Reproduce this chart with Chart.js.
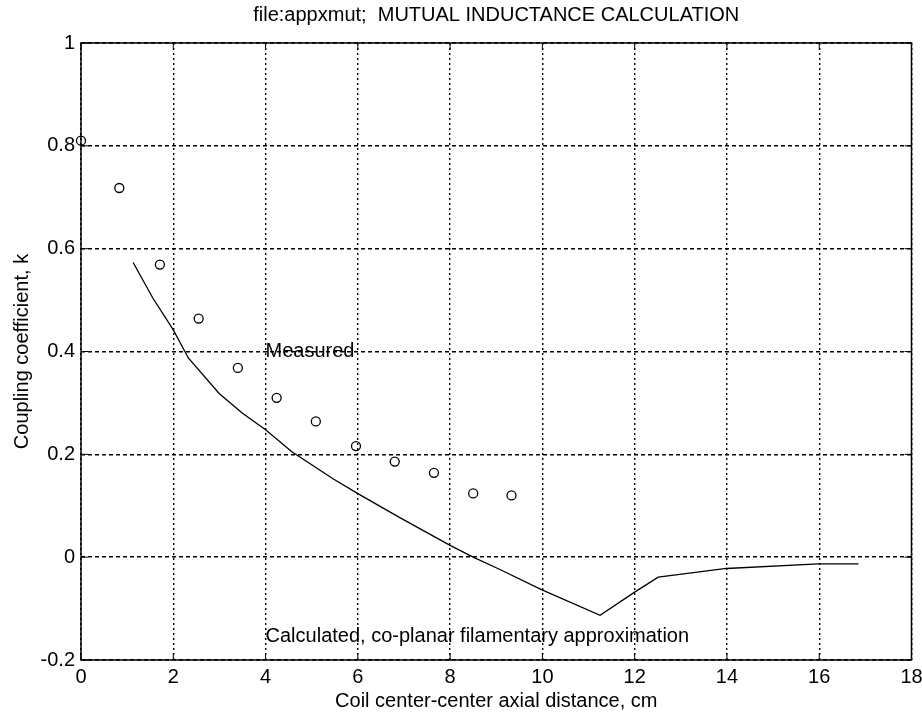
<!DOCTYPE html>
<html>
<head>
<meta charset="utf-8">
<script src="https://cdn.jsdelivr.net/npm/chart.js@4"></script>
<style>
  html, body { margin: 0; padding: 0; background: #fff; }
  #wrap { width: 922px; height: 713px; }
</style>
</head>
<body>
<div id="wrap"><canvas id="chart" width="922" height="713"></canvas></div>
<script>
// data
const titleText = 'file:appxmut;  MUTUAL INDUCTANCE CALCULATION';
const xTicks = [0, 2, 4, 6, 8, 10, 12, 14, 16, 18];
const yTicks = [-0.2, 0, 0.2, 0.4, 0.6, 0.8, 1];

const measuredX = [0, 0.83, 1.71, 2.55, 3.40, 4.24, 5.09, 5.96, 6.80, 7.65, 8.50, 9.33];
const measuredY = [0.81, 0.718, 0.569, 0.464, 0.368, 0.310, 0.264, 0.216, 0.186, 0.164, 0.124, 0.120];

const calcX = [1.13, 1.55, 2.0, 2.33, 3.0, 3.5, 4.0, 4.57, 5.47, 6.01, 6.91, 8.0, 8.5, 9.08, 9.98, 11.25, 12.0, 12.51, 13.99, 15.98, 16.85];
const calcY = [0.573, 0.505, 0.442, 0.387, 0.318, 0.280, 0.248, 0.205, 0.152, 0.123, 0.077, 0.023, 0.0, -0.024, -0.063, -0.113, -0.068, -0.039, -0.022, -0.013, -0.013];

const notes = [
  { x: 4, y: 0.4, text: 'Measured' },
  { x: 4, y: -0.155, text: 'Calculated, co-planar filamentary approximation' }
];

const FONT = '"Liberation Sans", Arial, sans-serif';

function pts(xs, ys) { return xs.map((x, i) => ({ x: x, y: ys[i] })); }

// white page, box, inward ticks, title and text notes
const matlabLook = {
  id: 'matlabLook',
  beforeDraw(chart) {
    const ctx = chart.ctx;
    ctx.save();
    ctx.fillStyle = '#fff';
    ctx.fillRect(0, 0, chart.width, chart.height);
    ctx.restore();
  },
  afterDraw(chart) {
    const ctx = chart.ctx;
    const a = chart.chartArea;
    const xs = chart.scales.x, ys = chart.scales.y;
    ctx.save();
    ctx.strokeStyle = '#000';
    ctx.lineWidth = 1.5;
    ctx.strokeRect(a.left, a.top, a.right - a.left, a.bottom - a.top);

    ctx.lineWidth = 1;
    ctx.beginPath();
    xTicks.forEach(v => {
      const px = xs.getPixelForValue(v);
      ctx.moveTo(px, a.bottom); ctx.lineTo(px, a.bottom - 7);
      ctx.moveTo(px, a.top); ctx.lineTo(px, a.top + 7);
    });
    yTicks.forEach(v => {
      const py = ys.getPixelForValue(v);
      ctx.moveTo(a.left, py); ctx.lineTo(a.left + 7, py);
      ctx.moveTo(a.right, py); ctx.lineTo(a.right - 7, py);
    });
    ctx.stroke();

    ctx.fillStyle = '#000';
    ctx.font = '20px ' + FONT;
    ctx.textAlign = 'center';
    ctx.textBaseline = 'middle';
    ctx.fillText(titleText, (a.left + a.right) / 2, 15);

    ctx.textAlign = 'left';
    notes.forEach(n => {
      ctx.fillText(n.text, xs.getPixelForValue(n.x), ys.getPixelForValue(n.y));
    });
    ctx.restore();
  }
};

new Chart(document.getElementById('chart'), {
  type: 'scatter',
  data: {
    datasets: [
      {
        label: 'Calculated',
        data: pts(calcX, calcY),
        showLine: true,
        borderColor: '#000',
        borderWidth: 1.3,
        pointRadius: 0,
        tension: 0
      },
      {
        label: 'Measured',
        data: pts(measuredX, measuredY),
        showLine: false,
        clip: false,
        pointStyle: 'circle',
        pointRadius: 4.5,
        borderColor: '#000',
        backgroundColor: 'rgba(0,0,0,0)',
        borderWidth: 1.3
      }
    ]
  },
  options: {
    responsive: false,
    animation: false,
    layout: { padding: { top: 43, right: 10.5, left: 0, bottom: 0 } },
    plugins: {
      legend: { display: false },
      title: { display: false },
      tooltip: { enabled: false }
    },
    scales: {
      x: {
        type: 'linear',
        min: 0, max: 18,
        afterBuildTicks: s => { s.ticks = xTicks.map(v => ({ value: v })); },
        afterFit: s => { s.height = 53; s.paddingLeft = 0; s.paddingRight = 0; },
        border: { display: false, dash: [2, 3] },
        grid: { color: '#000', lineWidth: 1.4, drawTicks: false },
        ticks: { color: '#000', font: { family: FONT, size: 20 }, padding: 5, maxRotation: 0, callback: v => String(v) },
        title: { display: true, text: 'Coil center-center axial distance, cm', color: '#000', font: { family: FONT, size: 20 }, padding: { top: 0, bottom: 0 } }
      },
      y: {
        type: 'linear',
        min: -0.2, max: 1,
        afterBuildTicks: s => { s.ticks = yTicks.map(v => ({ value: v })); },
        afterFit: s => { s.width = 81; s.paddingTop = 0; s.paddingBottom = 0; },
        border: { display: false, dash: [4, 3] },
        grid: { color: '#000', lineWidth: 1.4, drawTicks: false },
        ticks: { color: '#000', font: { family: FONT, size: 20 }, padding: 6, callback: v => String(v) },
        title: { display: true, text: 'Coupling coefficient, k', color: '#000', font: { family: FONT, size: 20 }, padding: { top: 10, bottom: 0 } }
      }
    }
  },
  plugins: [matlabLook]
});
</script>
</body>
</html>
